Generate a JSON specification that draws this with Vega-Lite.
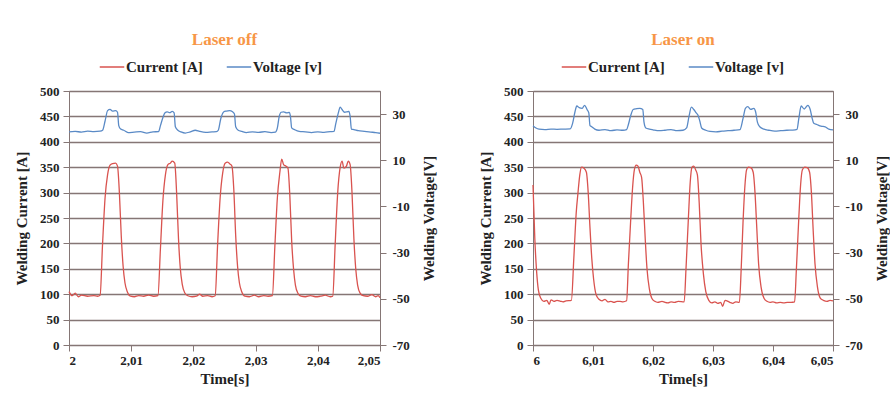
{
  "$schema": "https://vega.github.io/schema/vega-lite/v6.json",
  "background": "white",
  "padding": {"left": 14, "top": 30, "right": 0, "bottom": 0},
  "spacing": 41,
  "config": {
    "font": "Liberation Serif",
    "view": {"stroke": "#857675", "strokeWidth": 1},
    "axis": {"labelFont": "Liberation Serif", "labelFontWeight": "bold", "labelFontSize": 13, "labelColor": "#222222", "titleFont": "Liberation Serif", "titleFontWeight": "bold", "titleFontSize": 15, "titleColor": "#222222", "domainColor": "#857675", "tickColor": "#857675", "gridColor": "#857675", "gridOpacity": 1, "tickSize": 6},
    "legend": {"orient": "none", "direction": "horizontal", "legendY": -37, "symbolType": "stroke", "symbolSize": 600, "symbolStrokeWidth": 1.5, "labelFont": "Liberation Serif", "labelFontWeight": "bold", "labelFontSize": 15, "labelColor": "#222222", "labelOffset": 1, "columnPadding": 16, "title": null},
    "title": {"font": "Liberation Serif", "fontSize": 17, "fontWeight": "bold", "color": "#F79646", "anchor": "middle", "frame": "group", "offset": 5}
  },
  "datasets": {
    "offI": [
      {"t":2.0000,"v":105},{"t":2.0005,"v":97},{"t":2.0010,"v":102},{"t":2.0015,"v":95},{"t":2.0020,"v":98},{"t":2.0030,"v":96},{"t":2.0040,"v":97},{"t":2.0046,"v":96},
      {"t":2.0050,"v":98},{"t":2.0054,"v":200},{"t":2.0058,"v":290},{"t":2.0062,"v":335},{"t":2.0066,"v":354},{"t":2.0070,"v":357},{"t":2.0075,"v":358},{"t":2.0078,"v":352},{"t":2.0081,"v":300},{"t":2.0084,"v":215},{"t":2.0087,"v":155},{"t":2.0090,"v":122},{"t":2.0094,"v":104},{"t":2.0099,"v":96},{"t":2.0105,"v":95},{"t":2.0112,"v":97},{"t":2.0120,"v":96},{"t":2.0128,"v":98},{"t":2.0136,"v":96},{"t":2.0143,"v":97},
      {"t":2.0147,"v":190},{"t":2.0151,"v":285},{"t":2.0155,"v":335},{"t":2.0159,"v":355},{"t":2.0163,"v":358},{"t":2.0166,"v":362},{"t":2.0170,"v":358},{"t":2.0173,"v":300},{"t":2.0176,"v":210},{"t":2.0179,"v":150},{"t":2.0182,"v":120},{"t":2.0186,"v":103},{"t":2.0191,"v":97},{"t":2.0198,"v":95},{"t":2.0205,"v":96},{"t":2.0210,"v":100},{"t":2.0215,"v":96},{"t":2.0223,"v":97},{"t":2.0230,"v":95},{"t":2.0235,"v":97},
      {"t":2.0239,"v":200},{"t":2.0243,"v":290},{"t":2.0247,"v":338},{"t":2.0251,"v":358},{"t":2.0255,"v":360},{"t":2.0259,"v":356},{"t":2.0262,"v":352},{"t":2.0265,"v":305},{"t":2.0268,"v":215},{"t":2.0271,"v":155},{"t":2.0274,"v":122},{"t":2.0278,"v":104},{"t":2.0283,"v":96},{"t":2.0290,"v":95},{"t":2.0298,"v":98},{"t":2.0305,"v":95},{"t":2.0313,"v":97},{"t":2.0320,"v":96},{"t":2.0327,"v":97},
      {"t":2.0331,"v":195},{"t":2.0335,"v":290},{"t":2.0339,"v":340},{"t":2.0342,"v":366},{"t":2.0345,"v":355},{"t":2.0349,"v":352},{"t":2.0352,"v":348},{"t":2.0355,"v":295},{"t":2.0358,"v":205},{"t":2.0361,"v":150},{"t":2.0364,"v":118},{"t":2.0368,"v":102},{"t":2.0373,"v":96},{"t":2.0380,"v":95},{"t":2.0388,"v":97},{"t":2.0396,"v":95},{"t":2.0404,"v":96},{"t":2.0412,"v":98},{"t":2.0420,"v":95},{"t":2.0424,"v":96},
      {"t":2.0428,"v":200},{"t":2.0432,"v":300},{"t":2.0436,"v":350},{"t":2.0439,"v":362},{"t":2.0442,"v":348},{"t":2.0446,"v":352},{"t":2.0449,"v":362},{"t":2.0452,"v":355},{"t":2.0455,"v":300},{"t":2.0458,"v":210},{"t":2.0461,"v":150},{"t":2.0464,"v":118},{"t":2.0468,"v":102},{"t":2.0473,"v":97},{"t":2.0480,"v":96},{"t":2.0487,"v":99},{"t":2.0493,"v":95},{"t":2.0497,"v":97},{"t":2.0500,"v":93}
    ],
    "offV": [
      {"t":2.0000,"v":22.3},{"t":2.0010,"v":22.5},{"t":2.0020,"v":22.2},{"t":2.0030,"v":22.6},{"t":2.0040,"v":22.4},{"t":2.0050,"v":22.6},
      {"t":2.0054,"v":23.0},{"t":2.0058,"v":27.0},{"t":2.0062,"v":31.5},{"t":2.0066,"v":32.0},{"t":2.0070,"v":31.3},{"t":2.0075,"v":31.5},{"t":2.0078,"v":30.8},{"t":2.0080,"v":25.0},{"t":2.0083,"v":23.5},{"t":2.0088,"v":23.0},{"t":2.0095,"v":22.0},{"t":2.0105,"v":22.2},{"t":2.0115,"v":22.4},{"t":2.0125,"v":21.8},{"t":2.0135,"v":22.3},{"t":2.0144,"v":22.4},
      {"t":2.0147,"v":25.0},{"t":2.0151,"v":28.5},{"t":2.0154,"v":30.5},{"t":2.0158,"v":31.0},{"t":2.0162,"v":30.6},{"t":2.0166,"v":31.2},{"t":2.0169,"v":30.5},{"t":2.0171,"v":24.5},{"t":2.0175,"v":23.0},{"t":2.0180,"v":22.3},{"t":2.0187,"v":21.8},{"t":2.0195,"v":22.3},{"t":2.0203,"v":23.0},{"t":2.0210,"v":22.5},{"t":2.0220,"v":22.1},{"t":2.0230,"v":22.3},{"t":2.0237,"v":22.4},
      {"t":2.0240,"v":23.0},{"t":2.0244,"v":28.0},{"t":2.0249,"v":31.0},{"t":2.0253,"v":31.3},{"t":2.0258,"v":31.5},{"t":2.0263,"v":31.0},{"t":2.0266,"v":30.0},{"t":2.0268,"v":24.5},{"t":2.0272,"v":23.0},{"t":2.0278,"v":22.5},{"t":2.0285,"v":22.0},{"t":2.0295,"v":22.3},{"t":2.0305,"v":22.1},{"t":2.0315,"v":22.4},{"t":2.0325,"v":22.0},{"t":2.0332,"v":22.2},
      {"t":2.0335,"v":24.0},{"t":2.0338,"v":29.0},{"t":2.0341,"v":30.8},{"t":2.0345,"v":31.0},{"t":2.0350,"v":30.5},{"t":2.0354,"v":30.7},{"t":2.0356,"v":29.0},{"t":2.0358,"v":24.0},{"t":2.0363,"v":23.2},{"t":2.0370,"v":22.5},{"t":2.0380,"v":22.3},{"t":2.0390,"v":22.0},{"t":2.0400,"v":22.3},{"t":2.0410,"v":22.1},{"t":2.0420,"v":22.4},{"t":2.0426,"v":22.5},
      {"t":2.0429,"v":26.0},{"t":2.0433,"v":30.5},{"t":2.0436,"v":33.0},{"t":2.0439,"v":32.0},{"t":2.0443,"v":30.8},{"t":2.0447,"v":31.0},{"t":2.0450,"v":31.2},{"t":2.0452,"v":29.0},{"t":2.0454,"v":23.5},{"t":2.0458,"v":23.3},{"t":2.0465,"v":22.8},{"t":2.0475,"v":22.5},{"t":2.0485,"v":22.2},{"t":2.0493,"v":22.0},{"t":2.0500,"v":21.7}
    ],
    "onI": [
      {"t":6.0000,"v":315},{"t":6.0003,"v":210},{"t":6.0006,"v":145},{"t":6.0009,"v":108},{"t":6.0013,"v":92},{"t":6.0018,"v":86},{"t":6.0023,"v":88},{"t":6.0027,"v":80},{"t":6.0030,"v":89},{"t":6.0035,"v":86},{"t":6.0040,"v":88},{"t":6.0046,"v":86},{"t":6.0050,"v":85},{"t":6.0055,"v":87},{"t":6.0064,"v":88},
      {"t":6.0068,"v":170},{"t":6.0072,"v":260},{"t":6.0075,"v":300},{"t":6.0078,"v":335},{"t":6.0081,"v":350},{"t":6.0085,"v":348},{"t":6.0089,"v":340},{"t":6.0092,"v":300},{"t":6.0095,"v":230},{"t":6.0098,"v":170},{"t":6.0101,"v":130},{"t":6.0105,"v":100},{"t":6.0110,"v":90},{"t":6.0115,"v":87},{"t":6.0120,"v":90},{"t":6.0125,"v":85},{"t":6.0130,"v":86},{"t":6.0135,"v":84},{"t":6.0140,"v":86},{"t":6.0145,"v":86},{"t":6.0150,"v":85},{"t":6.0156,"v":87},
      {"t":6.0159,"v":160},{"t":6.0163,"v":250},{"t":6.0166,"v":310},{"t":6.0169,"v":345},{"t":6.0172,"v":354},{"t":6.0175,"v":352},{"t":6.0178,"v":340},{"t":6.0181,"v":330},{"t":6.0184,"v":280},{"t":6.0187,"v":210},{"t":6.0190,"v":150},{"t":6.0194,"v":110},{"t":6.0198,"v":92},{"t":6.0203,"v":86},{"t":6.0208,"v":84},{"t":6.0215,"v":86},{"t":6.0220,"v":84},{"t":6.0225,"v":83},{"t":6.0230,"v":85},{"t":6.0236,"v":84},{"t":6.0242,"v":86},{"t":6.0252,"v":85},
      {"t":6.0255,"v":150},{"t":6.0259,"v":250},{"t":6.0262,"v":320},{"t":6.0265,"v":350},{"t":6.0268,"v":352},{"t":6.0271,"v":345},{"t":6.0274,"v":335},{"t":6.0277,"v":280},{"t":6.0280,"v":200},{"t":6.0284,"v":140},{"t":6.0288,"v":105},{"t":6.0293,"v":88},{"t":6.0298,"v":83},{"t":6.0303,"v":85},{"t":6.0308,"v":82},{"t":6.0313,"v":84},{"t":6.0316,"v":76},{"t":6.0320,"v":88},{"t":6.0328,"v":84},{"t":6.0333,"v":82},{"t":6.0338,"v":85},{"t":6.0344,"v":84},
      {"t":6.0347,"v":150},{"t":6.0350,"v":240},{"t":6.0353,"v":310},{"t":6.0356,"v":345},{"t":6.0359,"v":350},{"t":6.0363,"v":349},{"t":6.0367,"v":340},{"t":6.0370,"v":300},{"t":6.0373,"v":230},{"t":6.0376,"v":160},{"t":6.0380,"v":115},{"t":6.0385,"v":92},{"t":6.0390,"v":86},{"t":6.0395,"v":84},{"t":6.0400,"v":85},{"t":6.0406,"v":83},{"t":6.0412,"v":84},{"t":6.0418,"v":83},{"t":6.0424,"v":84},{"t":6.0430,"v":84},{"t":6.0436,"v":85},
      {"t":6.0439,"v":150},{"t":6.0443,"v":250},{"t":6.0446,"v":315},{"t":6.0449,"v":345},{"t":6.0453,"v":350},{"t":6.0457,"v":349},{"t":6.0461,"v":340},{"t":6.0464,"v":300},{"t":6.0467,"v":225},{"t":6.0470,"v":160},{"t":6.0474,"v":115},{"t":6.0479,"v":92},{"t":6.0484,"v":88},{"t":6.0490,"v":86},{"t":6.0495,"v":88},{"t":6.0500,"v":87}
    ],
    "onV": [
      {"t":6.0000,"v":25.0},{"t":6.0005,"v":24.0},{"t":6.0010,"v":23.5},{"t":6.0020,"v":23.3},{"t":6.0030,"v":23.5},{"t":6.0040,"v":23.4},{"t":6.0050,"v":23.5},{"t":6.0062,"v":23.6},
      {"t":6.0066,"v":26.0},{"t":6.0070,"v":31.0},{"t":6.0073,"v":33.5},{"t":6.0077,"v":32.8},{"t":6.0082,"v":32.5},{"t":6.0086,"v":33.8},{"t":6.0090,"v":32.0},{"t":6.0093,"v":30.5},{"t":6.0095,"v":25.0},{"t":6.0098,"v":24.5},{"t":6.0103,"v":23.5},{"t":6.0110,"v":23.0},{"t":6.0120,"v":23.3},{"t":6.0130,"v":22.8},{"t":6.0140,"v":23.2},{"t":6.0150,"v":23.0},{"t":6.0156,"v":23.3},
      {"t":6.0159,"v":25.5},{"t":6.0163,"v":29.5},{"t":6.0167,"v":32.0},{"t":6.0172,"v":32.3},{"t":6.0178,"v":32.5},{"t":6.0183,"v":32.0},{"t":6.0185,"v":26.5},{"t":6.0188,"v":24.0},{"t":6.0194,"v":23.5},{"t":6.0200,"v":23.2},{"t":6.0210,"v":22.8},{"t":6.0220,"v":23.0},{"t":6.0230,"v":23.3},{"t":6.0240,"v":22.8},{"t":6.0250,"v":23.0},
      {"t":6.0256,"v":24.0},{"t":6.0260,"v":29.0},{"t":6.0264,"v":33.0},{"t":6.0268,"v":32.0},{"t":6.0272,"v":30.5},{"t":6.0275,"v":29.5},{"t":6.0278,"v":27.0},{"t":6.0281,"v":24.0},{"t":6.0288,"v":23.0},{"t":6.0295,"v":22.5},{"t":6.0305,"v":22.3},{"t":6.0315,"v":22.6},{"t":6.0325,"v":22.8},{"t":6.0335,"v":23.0},{"t":6.0345,"v":23.3},
      {"t":6.0350,"v":28.0},{"t":6.0354,"v":32.5},{"t":6.0358,"v":33.2},{"t":6.0363,"v":32.0},{"t":6.0368,"v":32.5},{"t":6.0371,"v":31.0},{"t":6.0374,"v":26.5},{"t":6.0378,"v":24.5},{"t":6.0385,"v":23.5},{"t":6.0393,"v":23.0},{"t":6.0403,"v":22.6},{"t":6.0413,"v":22.8},{"t":6.0423,"v":23.0},{"t":6.0433,"v":23.1},{"t":6.0440,"v":23.4},
      {"t":6.0443,"v":28.0},{"t":6.0447,"v":33.5},{"t":6.0452,"v":32.2},{"t":6.0458,"v":33.8},{"t":6.0462,"v":32.0},{"t":6.0465,"v":28.5},{"t":6.0468,"v":26.0},{"t":6.0473,"v":25.5},{"t":6.0480,"v":24.8},{"t":6.0487,"v":24.5},{"t":6.0493,"v":23.5},{"t":6.0500,"v":23.2}
    ]
  },
  "hconcat": [
    {
      "title": "Laser off",
      "width": 311,
      "height": 254,
      "layer": [
        {
          "data": {"name": "offI"},
          "mark": {"type": "line", "strokeWidth": 1.3, "interpolate": "monotone"},
          "encoding": {
            "x": {"field": "t", "type": "quantitative", "scale": {"domain": [2, 2.05], "nice": false}, "axis": {"title": "Time[s]", "values": [2, 2.01, 2.02, 2.03, 2.04, 2.05], "labelExpr": "replace(format(datum.value, '.2~f'), '.', ',')", "grid": false, "labelPadding": 3, "titlePadding": 4}},
            "y": {"field": "v", "type": "quantitative", "scale": {"domain": [0, 500], "nice": false}, "axis": {"title": "Welding Current [A]", "values": [0, 50, 100, 150, 200, 250, 300, 350, 400, 450, 500], "grid": true, "gridWidth": 1.3, "labelPadding": 4, "titlePadding": 10}},
            "color": {"datum": "Current  [A]", "type": "nominal", "scale": {"domain": ["Current  [A]", "Voltage [v]"], "range": ["#D9534F", "#5A8AC6"]}, "legend": {"legendX": 30}}
          }
        },
        {
          "data": {"name": "offV"},
          "mark": {"type": "line", "strokeWidth": 1.3, "interpolate": "monotone"},
          "encoding": {
            "x": {"field": "t", "type": "quantitative"},
            "y": {"field": "v", "type": "quantitative", "scale": {"domain": [-70, 40], "nice": false}, "axis": {"orient": "right", "title": "Welding Voltage[V]", "titleAngle": 270, "titleBaseline": "top", "values": [-70, -50, -30, -10, 10, 30], "labelExpr": "datum.value < 0 ? '-' + abs(datum.value) : '' + datum.value", "grid": false, "labelPadding": 6, "titlePadding": 12}},
            "color": {"datum": "Voltage [v]", "type": "nominal"}
          }
        }
      ],
      "resolve": {"scale": {"y": "independent"}}
    },
    {
      "title": "Laser on",
      "width": 300,
      "height": 254,
      "layer": [
        {
          "data": {"name": "onI"},
          "mark": {"type": "line", "strokeWidth": 1.3, "interpolate": "monotone"},
          "encoding": {
            "x": {"field": "t", "type": "quantitative", "scale": {"domain": [6, 6.05], "nice": false}, "axis": {"title": "Time[s]", "values": [6, 6.01, 6.02, 6.03, 6.04, 6.05], "labelExpr": "replace(format(datum.value, '.2~f'), '.', ',')", "grid": false, "labelPadding": 3, "titlePadding": 4}},
            "y": {"field": "v", "type": "quantitative", "scale": {"domain": [0, 500], "nice": false}, "axis": {"title": "Welding Current [A]", "values": [0, 50, 100, 150, 200, 250, 300, 350, 400, 450, 500], "grid": true, "gridWidth": 1.3, "labelPadding": 4, "titlePadding": 10}},
            "color": {"datum": "Current  [A]", "type": "nominal", "scale": {"domain": ["Current  [A]", "Voltage [v]"], "range": ["#D9534F", "#5A8AC6"]}, "legend": {"legendX": 28}}
          }
        },
        {
          "data": {"name": "onV"},
          "mark": {"type": "line", "strokeWidth": 1.3, "interpolate": "monotone"},
          "encoding": {
            "x": {"field": "t", "type": "quantitative"},
            "y": {"field": "v", "type": "quantitative", "scale": {"domain": [-70, 40], "nice": false}, "axis": {"orient": "right", "title": "Welding Voltage[V]", "titleAngle": 270, "titleBaseline": "top", "values": [-70, -50, -30, -10, 10, 30], "labelExpr": "datum.value < 0 ? '-' + abs(datum.value) : '' + datum.value", "grid": false, "labelPadding": 6, "titlePadding": 12}},
            "color": {"datum": "Voltage [v]", "type": "nominal"}
          }
        }
      ],
      "resolve": {"scale": {"y": "independent"}}
    }
  ],
  "resolve": {"scale": {"color": "independent"}}
}
